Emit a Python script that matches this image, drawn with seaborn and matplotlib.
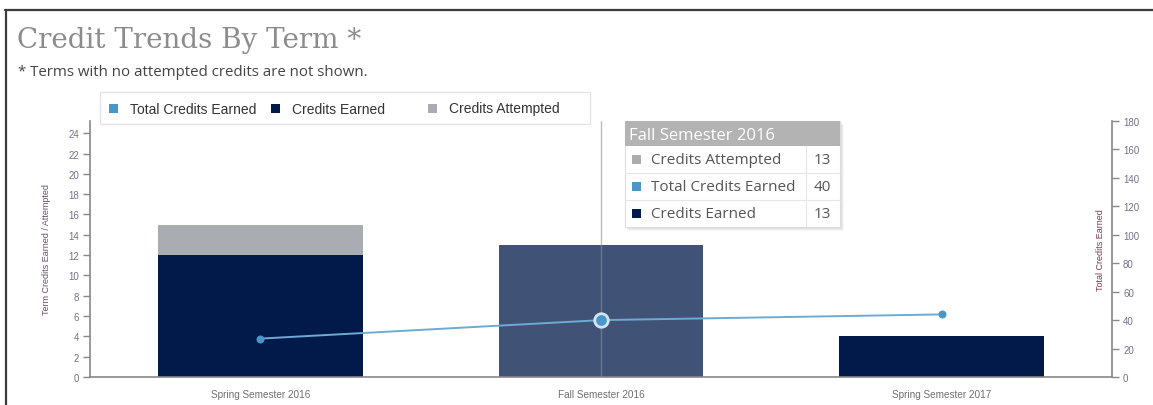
import numpy as np
import pandas as pd
import matplotlib
matplotlib.use("Agg")
import matplotlib.pyplot as plt
from matplotlib.patches import Rectangle
from matplotlib.lines import Line2D
import seaborn as sns

# ---- data ----
terms = ["Spring Semester 2016", "Fall Semester 2016", "Spring Semester 2017"]
credits_attempted = [15, 13, 4]
credits_earned = [12, 13, 4]
total_credits_earned = [27, 40, 44]
highlight_term = "Fall Semester 2016"

left_ticks = list(range(0, 25, 2))
right_ticks = list(range(0, 181, 20))

NAVY = "#021a4a"
NAVY_HOVER = "#405377"
GREY = "#a9acb1"
BLUE = "#4b96c9"
LINE = "#6eaad4"
TICK_TXT = "#77708a"

sns.set_style("white")
plt.rcParams["font.family"] = ["Liberation Sans", "DejaVu Sans"]

df = pd.DataFrame({
    "term": terms,
    "attempted": credits_attempted,
    "earned": credits_earned,
    "total": total_credits_earned,
})
df["x"] = np.arange(len(df))

W, H = 1153, 406
fig = plt.figure(figsize=(W / 100, H / 100), dpi=100)

def fx(px):
    return px / W

def fy(py):
    return 1 - py / H

ax = fig.add_axes([fx(90), fy(378), fx(1112) - fx(90), fy(122) - fy(378)])

# attempted (background) bars, then earned bars on top
sns.barplot(data=df, x="term", y="attempted", color=GREY, width=0.6,
            saturation=1, ax=ax, order=terms, linewidth=0)
earned_pal = {t: (NAVY_HOVER if t == highlight_term else NAVY) for t in terms}
sns.barplot(data=df, x="term", y="earned", hue="term", palette=earned_pal,
            width=0.6, saturation=1, ax=ax, order=terms, legend=False,
            linewidth=0)

ax.set_xlim(-0.5, len(terms) - 0.5)
ax.set_ylim(0, 25.2)
ax.set_yticks(left_ticks)
ax.set_xlabel("")
ax.set_ylabel("Term Credits Earned / Attempted", fontsize=6.5, color="#6a4f6e",
              labelpad=12)
ax.tick_params(axis="y", labelsize=7, colors="#888888", labelcolor=TICK_TXT,
               length=5, width=1, direction="out", pad=3)
ax.tick_params(axis="x", which="major", length=0, labelsize=7.2,
               labelcolor="#6f6f6f", pad=9)
ax.set_xticks([0.5, 1.5], minor=True)
ax.tick_params(axis="x", which="minor", length=5, width=1, color="#888888",
               direction="out")
for s in ["top", "right"]:
    ax.spines[s].set_visible(False)
for s in ["left", "bottom"]:
    ax.spines[s].set_color("#888888")
    ax.spines[s].set_linewidth(1.2)

# hover crosshair
hi = terms.index(highlight_term)
ax.axvline(hi, color="#8f8f96", lw=1, alpha=0.6, zorder=3)

# cumulative line on secondary axis
ax2 = ax.twinx()
sns.lineplot(data=df, x="x", y="total", color=LINE, lw=1.4, ax=ax2,
             marker="o", markersize=5, markerfacecolor=BLUE,
             markeredgecolor=BLUE)
hrow = df[df["term"] == highlight_term]
sns.scatterplot(data=hrow, x="x", y="total", s=95, color=BLUE,
                edgecolor="#d3e5f3", linewidth=2, ax=ax2, zorder=5)
ax2.set_ylim(0, 180)
ax2.set_yticks(right_ticks)
ax2.set_xlim(-0.5, len(terms) - 0.5)
ax2.set_xlabel("")
ax2.set_ylabel("Total Credits Earned", fontsize=6.5, color="#7a3b4c",
               labelpad=-31)
ax2.yaxis.set_label_position("right")
ax2.tick_params(axis="y", labelsize=7, colors="#888888", labelcolor=TICK_TXT,
                length=5, width=1, direction="out", pad=3)
for s in ["top", "left", "bottom"]:
    ax2.spines[s].set_visible(False)
ax2.spines["right"].set_color("#888888")
ax2.spines["right"].set_linewidth(1.2)

# ---- title block ----
fig.text(fx(17), fy(40), "Credit Trends By Term *", fontsize=20,
         family=["DejaVu Serif"], color="#8c8c8c", va="center", ha="left")
fig.text(fx(18), fy(72), "* Terms with no attempted credits are not shown.",
         fontsize=10.8, family=["Open Sans", "DejaVu Sans"], color="#444444",
         va="center", ha="left")

# ---- frame lines ----
fig.add_artist(Line2D([fx(5), 1], [fy(11), fy(11)], color="#3c3c3c", lw=1.6))
fig.add_artist(Line2D([fx(6), fx(6)], [fy(11), 0], color="#3c3c3c", lw=1.6))

# ---- legend box ----
fig.add_artist(Rectangle((fx(100), fy(125)), fx(590) - fx(100),
                         fy(93) - fy(125), facecolor="white",
                         edgecolor="#e4e4e4", lw=1, zorder=6))
legend_items = [("Total Credits Earned", BLUE, 113),
                ("Credits Earned", NAVY, 275),
                ("Credits Attempted", GREY, 432)]
for label, col, px in legend_items:
    fig.add_artist(Rectangle((fx(px - 4.5), fy(114)), fx(9), fy(0) - fy(9),
                             facecolor=col, edgecolor="none", zorder=7))
    fig.text(fx(px + 17), fy(109.5), label, fontsize=10, color="#333333",
             va="center", ha="left", zorder=8)

# ---- tooltip ----
tx0, tx1, ty0 = 625, 840, 122
hdr_h, row_h = 25, 27
rows = [("Credits Attempted", GREY, credits_attempted[hi]),
        ("Total Credits Earned", BLUE, total_credits_earned[hi]),
        ("Credits Earned", NAVY, credits_earned[hi])]
tot_h = hdr_h + row_h * len(rows)
# soft shadow
for i, a in enumerate([0.05, 0.04, 0.03]):
    off = 1.5 + i
    fig.add_artist(Rectangle((fx(tx0 + off), fy(ty0 + tot_h + off)),
                             fx(tx1 - tx0), fy(0) - fy(tot_h),
                             facecolor="black", alpha=a, edgecolor="none",
                             zorder=9))
fig.add_artist(Rectangle((fx(tx0), fy(ty0 + tot_h)), fx(tx1 - tx0),
                         fy(0) - fy(tot_h), facecolor="white",
                         edgecolor="#dddddd", lw=0.8, zorder=10))
fig.add_artist(Rectangle((fx(tx0), fy(ty0 + hdr_h)), fx(tx1 - tx0),
                         fy(0) - fy(hdr_h), facecolor="#b3b3b3",
                         edgecolor="none", zorder=11))
fig.text(fx(tx0 + 4), fy(ty0 + hdr_h / 2 + 1), highlight_term, fontsize=12,
         family=["Open Sans", "DejaVu Sans"], color="white", va="center",
         ha="left", zorder=12)
sep_x = 806
for i, (label, col, val) in enumerate(rows):
    top = ty0 + hdr_h + i * row_h
    cy = top + row_h / 2
    if i > 0:
        fig.add_artist(Line2D([fx(tx0), fx(tx1)], [fy(top), fy(top)],
                              color="#e6e6e6", lw=0.8, zorder=12))
    fig.add_artist(Rectangle((fx(tx0 + 7), fy(cy + 4.5)), fx(9),
                             fy(0) - fy(9), facecolor=col, edgecolor="none",
                             zorder=12))
    fig.text(fx(tx0 + 26), fy(cy), label, fontsize=11,
             family=["Open Sans", "DejaVu Sans"], color="#555555",
             va="center", ha="left", zorder=12)
    fig.text(fx(tx1 - 9), fy(cy), str(val), fontsize=11,
             family=["Open Sans", "DejaVu Sans"], color="#555555",
             va="center", ha="right", zorder=12)
fig.add_artist(Line2D([fx(sep_x), fx(sep_x)], [fy(ty0 + hdr_h), fy(ty0 + tot_h)],
                      color="#e6e6e6", lw=0.8, zorder=12))

fig.savefig("out.png", dpi=100)
